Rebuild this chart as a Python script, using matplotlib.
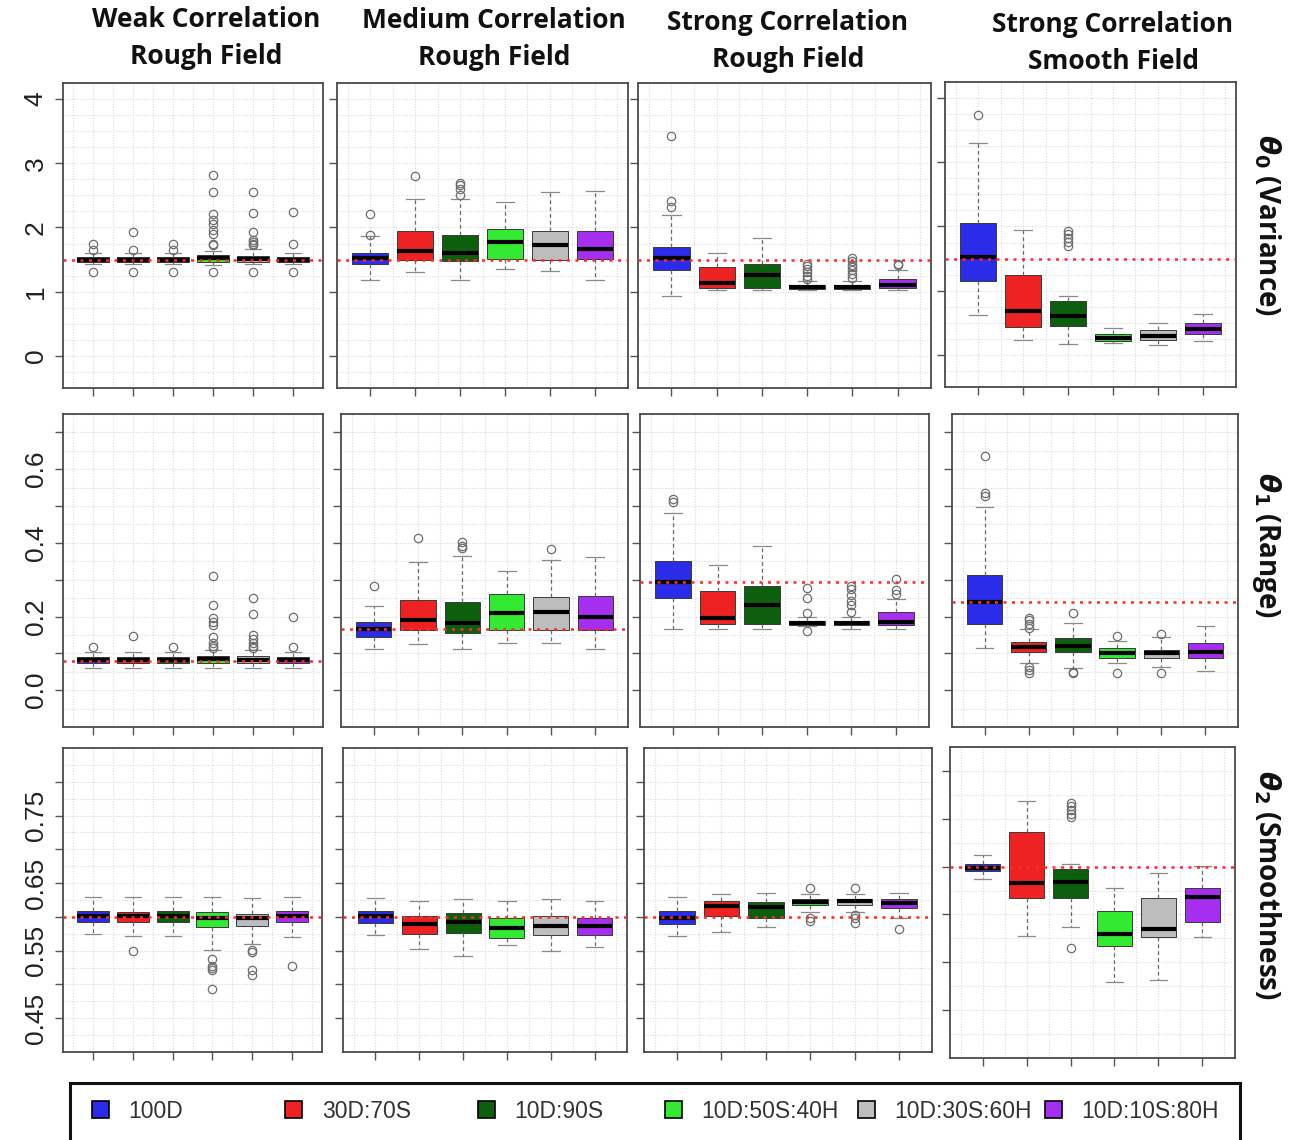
import numpy as np
import matplotlib
matplotlib.use("Agg")
import matplotlib.pyplot as plt
from matplotlib.patches import Patch, Rectangle

# ---- data ----
col_titles = ["Weak Correlation\nRough Field", "Medium Correlation\nRough Field",
              "Strong Correlation\nRough Field", "Strong Correlation\nSmooth Field"]
row_titles = [r"$\boldsymbol{\theta}_{\mathbf{0}}$ (Variance)",
              r"$\boldsymbol{\theta}_{\mathbf{1}}$ (Range)",
              r"$\boldsymbol{\theta}_{\mathbf{2}}$ (Smoothness)"]
designs = ["100D", "30D:70S", "10D:90S", "10D:50S:40H", "10D:30S:60H", "10D:10S:80H"]
box_colors = ["#2b2bea", "#ee2222", "#0c5f0c", "#33ea33", "#bdbdbd", "#a52ef0"]

# theta0 (variance): rows = field scenario, cols = design
var_true = [1.5, 1.5, 1.5, 1.5]
var_lo = [[1.43, 1.43, 1.43, 1.42, 1.43, 1.43],
          [1.18, 1.30, 1.18, 1.35, 1.32, 1.18],
          [0.94, 1.02, 1.02, 1.02, 1.02, 1.02],
          [0.62, 0.23, 0.17, 0.18, 0.15, 0.22]]
var_q1 = [[1.46, 1.46, 1.46, 1.47, 1.47, 1.46],
          [1.43, 1.50, 1.48, 1.51, 1.50, 1.51],
          [1.33, 1.06, 1.06, 1.04, 1.04, 1.05],
          [1.15, 0.43, 0.45, 0.21, 0.23, 0.32]]
var_med = [[1.50, 1.50, 1.50, 1.52, 1.51, 1.50],
           [1.52, 1.64, 1.60, 1.77, 1.72, 1.66],
           [1.52, 1.13, 1.26, 1.08, 1.08, 1.11],
           [1.52, 0.68, 0.61, 0.26, 0.30, 0.41]]
var_q3 = [[1.54, 1.54, 1.54, 1.57, 1.56, 1.54],
          [1.61, 1.95, 1.89, 1.98, 1.95, 1.95],
          [1.69, 1.38, 1.43, 1.11, 1.11, 1.19],
          [2.06, 1.25, 0.84, 0.33, 0.38, 0.49]]
var_hi = [[1.61, 1.61, 1.61, 1.64, 1.67, 1.61],
          [1.86, 2.45, 2.45, 2.39, 2.55, 2.57],
          [2.20, 1.61, 1.84, 1.17, 1.17, 1.33],
          [3.30, 1.94, 0.92, 0.42, 0.49, 0.63]]
var_out = [[[1.75, 1.65, 1.31], [1.93, 1.65, 1.31], [1.75, 1.65, 1.31],
            [2.82, 2.56, 2.21, 2.12, 2.05, 1.96, 1.90, 1.75, 1.72, 1.31],
            [2.56, 2.22, 1.93, 1.80, 1.77, 1.74, 1.72, 1.31], [2.24, 1.75, 1.31]],
           [[2.21, 1.89], [2.80], [2.70, 2.66, 2.60, 2.50], [], [], []],
           [[3.43, 2.42, 2.32], [], [], [1.43, 1.40, 1.35, 1.30, 1.25, 1.20],
            [1.52, 1.48, 1.42, 1.38, 1.33, 1.28, 1.22], [1.43, 1.41]],
           [[3.74], [], [1.93, 1.88, 1.82, 1.76, 1.70], [], [], []]]

# theta1 (range)
rng_true = [0.08, 0.166, 0.293, 0.24]
rng_lo = [[0.060, 0.060, 0.060, 0.060, 0.060, 0.060],
          [0.113, 0.126, 0.113, 0.127, 0.127, 0.111],
          [0.165, 0.167, 0.165, 0.173, 0.167, 0.167],
          [0.114, 0.073, 0.059, 0.073, 0.063, 0.053]]
rng_q1 = [[0.073, 0.073, 0.073, 0.075, 0.075, 0.073],
          [0.145, 0.164, 0.156, 0.164, 0.164, 0.164],
          [0.251, 0.179, 0.179, 0.177, 0.177, 0.178],
          [0.179, 0.104, 0.104, 0.088, 0.088, 0.088]]
rng_med = [[0.081, 0.081, 0.081, 0.085, 0.083, 0.081],
           [0.165, 0.190, 0.182, 0.210, 0.211, 0.200],
           [0.294, 0.195, 0.231, 0.183, 0.183, 0.186],
           [0.240, 0.118, 0.120, 0.100, 0.100, 0.105]]
rng_q3 = [[0.089, 0.089, 0.089, 0.093, 0.093, 0.089],
          [0.185, 0.244, 0.240, 0.260, 0.252, 0.255],
          [0.351, 0.268, 0.284, 0.189, 0.189, 0.211],
          [0.313, 0.131, 0.142, 0.114, 0.110, 0.128]]
rng_hi = [[0.103, 0.103, 0.103, 0.110, 0.110, 0.103],
          [0.228, 0.349, 0.364, 0.323, 0.353, 0.361],
          [0.480, 0.339, 0.392, 0.200, 0.200, 0.248],
          [0.497, 0.165, 0.183, 0.134, 0.144, 0.174]]
rng_out = [[[0.117], [0.148], [0.117],
            [0.311, 0.232, 0.196, 0.185, 0.176, 0.145, 0.127, 0.119, 0.115],
            [0.250, 0.206, 0.150, 0.140, 0.127, 0.119, 0.115], [0.198, 0.117]],
           [[0.282], [0.412], [0.403, 0.392, 0.385], [], [0.384], []],
           [[0.520, 0.510], [], [], [0.278, 0.250, 0.209, 0.160],
            [0.284, 0.274, 0.258, 0.243, 0.230, 0.213], [0.302, 0.272, 0.262]],
           [[0.635, 0.535, 0.528], [0.197, 0.190, 0.180, 0.170, 0.063, 0.055, 0.047],
            [0.209, 0.050, 0.046], [0.146, 0.047], [0.152, 0.047], []]]

# theta2 (smoothness)
sm_true = [0.6, 0.6, 0.6, 0.65]
sm_lo = [[0.574, 0.572, 0.572, 0.551, 0.560, 0.570],
         [0.573, 0.552, 0.542, 0.558, 0.550, 0.555],
         [0.571, 0.578, 0.585, 0.607, 0.607, 0.599],
         [0.637, 0.577, 0.587, 0.529, 0.531, 0.576]]
sm_q1 = [[0.592, 0.593, 0.593, 0.585, 0.587, 0.593],
         [0.591, 0.574, 0.576, 0.569, 0.573, 0.573],
         [0.590, 0.601, 0.599, 0.617, 0.617, 0.613],
         [0.645, 0.617, 0.617, 0.567, 0.576, 0.592]]
sm_med = [[0.601, 0.601, 0.601, 0.598, 0.598, 0.601],
          [0.601, 0.589, 0.593, 0.584, 0.587, 0.587],
          [0.599, 0.616, 0.614, 0.622, 0.623, 0.620],
          [0.649, 0.633, 0.634, 0.580, 0.585, 0.618]]
sm_q3 = [[0.609, 0.607, 0.609, 0.607, 0.605, 0.609],
         [0.609, 0.602, 0.606, 0.599, 0.602, 0.599],
         [0.609, 0.624, 0.622, 0.627, 0.627, 0.626],
         [0.653, 0.686, 0.647, 0.604, 0.617, 0.628]]
sm_hi = [[0.630, 0.630, 0.630, 0.630, 0.628, 0.630],
         [0.628, 0.623, 0.627, 0.623, 0.626, 0.623],
         [0.630, 0.634, 0.635, 0.634, 0.634, 0.635],
         [0.662, 0.719, 0.653, 0.628, 0.643, 0.651]]
sm_out = [[[], [0.550], [], [0.537, 0.528, 0.525, 0.522, 0.493], [0.551, 0.548, 0.521, 0.514], [0.528]],
          [[], [], [], [], [], []],
          [[], [], [], [0.643, 0.598, 0.594], [0.643, 0.603, 0.598, 0.591], [0.582]],
          [[], [], [0.717, 0.713, 0.709, 0.705, 0.702, 0.565], [], [], []]]

# y axes per row
ylims = [(-0.17, 4.14), (-0.027, 0.732), (0.436, 0.816)]
yticks = [[0, 1, 2, 3, 4], np.round(np.arange(0, 0.71, 0.1), 2), np.round(np.arange(0.45, 0.81, 0.05), 2)]
ylabels = [["0", "1", "2", "3", "4"],
           ["0.0", "", "0.2", "", "0.4", "", "0.6", ""],
           ["0.45", "", "0.55", "", "0.65", "", "0.75", ""]]
# the smooth-field smoothness panel has its own scale
sm_smooth_ylim = (0.4905, 0.7595)
sm_smooth_ticks = np.round(np.arange(0.50, 0.76, 0.05), 2)

# ---- layout (pixels in a 1293x1140 canvas) ----
W, H = 1293, 1140
row_px = [[(63, 323, 83, 388), (337, 628, 83, 388), (638, 931, 83, 388), (945, 1236, 82, 387)],
          [(63, 323, 414, 727), (341, 628, 414, 727), (640, 929, 414, 727), (952, 1238, 414, 727)],
          [(63, 322, 748, 1052), (343, 627, 748, 1052), (644, 932, 748, 1052), (950, 1235, 747, 1058)]]

plt.rcParams["font.family"] = ["Liberation Sans", "DejaVu Sans"]
plt.rcParams["mathtext.fontset"] = "dejavusans"
fig = plt.figure(figsize=(W / 100, H / 100), dpi=100)

rows = [(var_lo, var_q1, var_med, var_q3, var_hi, var_out, var_true),
        (rng_lo, rng_q1, rng_med, rng_q3, rng_hi, rng_out, rng_true),
        (sm_lo, sm_q1, sm_med, sm_q3, sm_hi, sm_out, sm_true)]

for r, (lo, q1, med, q3, hi, out, truth) in enumerate(rows):
    for c in range(4):
        x0, x1, y0, y1 = row_px[r][c]
        ax = fig.add_axes([x0 / W, 1 - y1 / H, (x1 - x0) / W, (y1 - y0) / H])
        stats = [dict(whislo=lo[c][i], q1=q1[c][i], med=med[c][i], q3=q3[c][i],
                      whishi=hi[c][i], fliers=out[c][i]) for i in range(6)]
        bp = ax.bxp(stats, positions=range(1, 7), widths=0.8, patch_artist=True,
                    capwidths=0.4,
                    boxprops=dict(edgecolor="#3a3a3a", linewidth=0.7),
                    medianprops=dict(color="black", linewidth=3),
                    whiskerprops=dict(color="#6a6a6a", linestyle=(0, (3, 2.5)), linewidth=0.9),
                    capprops=dict(color="#8a8a8a", linewidth=0.9),
                    flierprops=dict(marker="o", markerfacecolor="none", markeredgecolor="#6e6e6e",
                                    markersize=6, markeredgewidth=0.9))
        for patch, col in zip(bp["boxes"], box_colors):
            patch.set_facecolor(col)
        ax.axhline(truth[c], color="#ff2a2a", linestyle=(0, (1.2, 2.2)), linewidth=1.8, zorder=6)

        ax.set_xlim(0.26, 6.74)
        ax.set_xticks(range(1, 7))
        ax.set_xticklabels([])
        ax.set_xticks(np.arange(0.5, 7.0, 0.5), minor=True)
        if r == 2 and c == 3:
            ax.set_ylim(*sm_smooth_ylim)
            ax.set_yticks(sm_smooth_ticks)
            ax.set_yticklabels([])
            ax.set_yticks(np.arange(0.45, 0.80, 0.025), minor=True)
        else:
            ax.set_ylim(*ylims[r])
            ax.set_yticks(yticks[r])
            step = (yticks[r][1] - yticks[r][0]) / (4 if r == 0 else 2)
            ax.set_yticks(np.arange(yticks[r][0] - step * 2, yticks[r][-1] + step * 2, step), minor=True)
            if c == 0:
                ax.set_yticklabels(ylabels[r], rotation=90, va="center", fontsize=19, color="#222222")
            else:
                ax.set_yticklabels([])
        ax.set_ylim(ax.get_ylim())
        ax.grid(which="both", color="#d9d9d9", linestyle=(0, (1, 1.5)), linewidth=0.8)
        ax.set_axisbelow(True)
        ax.tick_params(which="major", direction="out", length=6, width=1, color="#555555", pad=5)
        ax.tick_params(which="minor", length=0)
        for s in ax.spines.values():
            s.set_color("#4a4a4a")
            s.set_linewidth(1.3)

# column titles
title_x = [206, 494, 788, 1113]
title_y = [38, 39, 41, 43]
for t, x, y in zip(col_titles, title_x, title_y):
    fig.text(x / W, 1 - y / H, t, ha="center", va="center", fontsize=19, fontweight="bold",
             family=["Open Sans", "DejaVu Sans"], linespacing=1.5, color="#111111")

# row titles on the right
for t, y in zip(row_titles, [225, 545, 885]):
    fig.text(1267 / W, 1 - y / H, t, ha="center", va="center", rotation=270, fontsize=20,
             fontweight="bold", family=["Open Sans", "DejaVu Sans"], color="#111111")

# legend: six evenly spaced entries inside one thick frame
legend_x = [92, 285, 478, 665, 858, 1045]
for lab, col, x in zip(designs, box_colors, legend_x):
    fig.legend([Patch(facecolor=col, edgecolor="black", linewidth=1.2)], [lab],
               loc="center left", bbox_to_anchor=(x / W, 1 - 1111 / H), frameon=False,
               fontsize=16.5, handlelength=0.75, handleheight=0.75, handletextpad=0.85,
               borderpad=0, borderaxespad=0, labelcolor="#333333")
fig.patches.append(Rectangle((70 / W, -0.02), 1170 / W, 0.02 + 1 - 1083 / H, transform=fig.transFigure,
                             fill=False, edgecolor="#111111", linewidth=2.2))

fig.savefig("out.png", dpi=100)
